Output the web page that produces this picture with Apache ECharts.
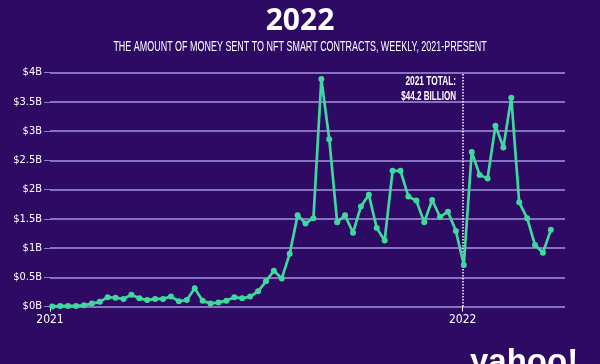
<!DOCTYPE html>
<html>
<head>
<meta charset="utf-8">
<script src="https://cdn.jsdelivr.net/npm/echarts@6/dist/echarts.min.js"></script>
<style>
html,body{margin:0;padding:0;background:#2f0a64;}
#c{width:600px;height:364px;}
</style>
</head>
<body>
<div id="c"></div>
<script>
// Weekly amount sent to NFT smart contracts, in billions of USD
const startWeek = '2021-01-03';
const weeklyValues2021 = [
  0.00, 0.01, 0.01, 0.01, 0.02, 0.05, 0.08, 0.16, 0.15, 0.13,
  0.20, 0.14, 0.11, 0.13, 0.13, 0.17, 0.09, 0.11, 0.31, 0.10,
  0.05, 0.07, 0.10, 0.16, 0.14, 0.17, 0.26, 0.43, 0.61, 0.48,
  0.90, 1.56, 1.42, 1.51, 3.89, 2.86, 1.44, 1.56, 1.26, 1.71,
  1.91, 1.34, 1.13, 2.32, 2.32, 1.88, 1.81, 1.44, 1.82, 1.53,
  1.62, 1.29
];
const weeklyValues2022 = [
  0.71, 2.64, 2.25, 2.19, 3.09, 2.72, 3.57, 1.78, 1.51, 1.05, 0.92, 1.31
];
const yTicks = [0, 0.5, 1, 1.5, 2, 2.5, 3, 3.5, 4];
const yearMarks = ['2021-01-01', '2022-01-01'];
const annotationLines = ['2021 TOTAL:', '$44.2 BILLION'];
const titleText = '2022';
const subtitleText = 'THE AMOUNT OF MONEY SENT TO NFT SMART CONTRACTS, WEEKLY, 2021-PRESENT';

const DAY = 86400000;
const origin = new Date(yearMarks[0] + 'T00:00:00Z').getTime();
const dayOf = d => Math.round((new Date(d + 'T00:00:00Z').getTime() - origin) / DAY);
const values = weeklyValues2021.concat(weeklyValues2022);
const firstDay = dayOf(startWeek);
const seriesData = values.map((v, i) => [firstDay + i * 7, v]);
const yearDays = yearMarks.map(dayOf);
const yearLabel = {};
yearMarks.forEach((d, i) => { yearLabel[yearDays[i]] = d.slice(0, 4); });

const FONT = '"DejaVu Sans Condensed", "Liberation Sans Narrow", "Liberation Sans", Arial, sans-serif';
const WIDE = '"Liberation Sans", Arial, sans-serif';
const chart = echarts.init(document.getElementById('c'));
chart.setOption({
  backgroundColor: '#2f0a64',
  animation: false,
  grid: {left: 50, right: 35, top: 72.5, bottom: 57.5},
  title: [
    {text: titleText, left: 'center', top: 1,
     textStyle: {color: '#ffffff', fontSize: 30, fontWeight: 'bold', fontFamily: '"Open Sans", "Noto Sans", sans-serif'}}
  ],
  xAxis: {
    type: 'value',
    min: 0,
    max: 455.5,
    axisLine: {show: false},
    splitLine: {show: false},
    axisTick: {show: true, customValues: yearDays, length: 5, lineStyle: {color: '#ffffff', width: 1}},
    axisLabel: {
      customValues: yearDays,
      color: '#ffffff', fontSize: 12, fontFamily: FONT, margin: 7,
      formatter: v => yearLabel[v] || ''
    }
  },
  yAxis: {
    type: 'value', min: yTicks[0], max: yTicks[yTicks.length - 1], interval: yTicks[1] - yTicks[0],
    axisLine: {show: false},
    axisTick: {show: true, length: 6, lineStyle: {color: '#8f80c8', width: 1}},
    splitLine: {lineStyle: {color: '#a496dc', width: 1.5}},
    axisLabel: {color: '#ffffff', fontSize: 11, fontFamily: FONT, margin: 8,
      formatter: v => '$' + v + 'B'}
  },
  series: [{
    type: 'line',
    data: seriesData,
    symbol: 'circle',
    symbolSize: 6,
    lineStyle: {color: '#3fd99e', width: 2.7},
    itemStyle: {color: '#3fd99e'},
    z: 5,
    markLine: {
      silent: true, symbol: 'none',
      label: {show: false},
      lineStyle: {color: '#ffffff', type: 'dotted', width: 1.5},
      data: [{xAxis: yearDays[1]}]
    }
  }],
  graphic: [
    {type: 'text', x: 300, y: 40, scaleX: 0.64,
     style: {text: subtitleText, fill: '#ffffff', font: '14px ' + WIDE, textAlign: 'center', textVerticalAlign: 'top'}},
    {type: 'text', x: 456, y: 75, scaleX: 0.64,
     style: {text: annotationLines[0], fill: '#ffffff', font: 'bold 13px ' + WIDE, textAlign: 'right', textVerticalAlign: 'top'}},
    {type: 'text', x: 456, y: 90, scaleX: 0.62,
     style: {text: annotationLines[1], fill: '#ffffff', font: 'bold 13px ' + WIDE, textAlign: 'right', textVerticalAlign: 'top'}},
    {type: 'text', x: 470, y: 346,
     style: {text: 'yahoo!', fill: '#ffffff', font: 'bold 33px ' + WIDE, textAlign: 'left', textVerticalAlign: 'top'}}
  ]
});
</script>
</body>
</html>
